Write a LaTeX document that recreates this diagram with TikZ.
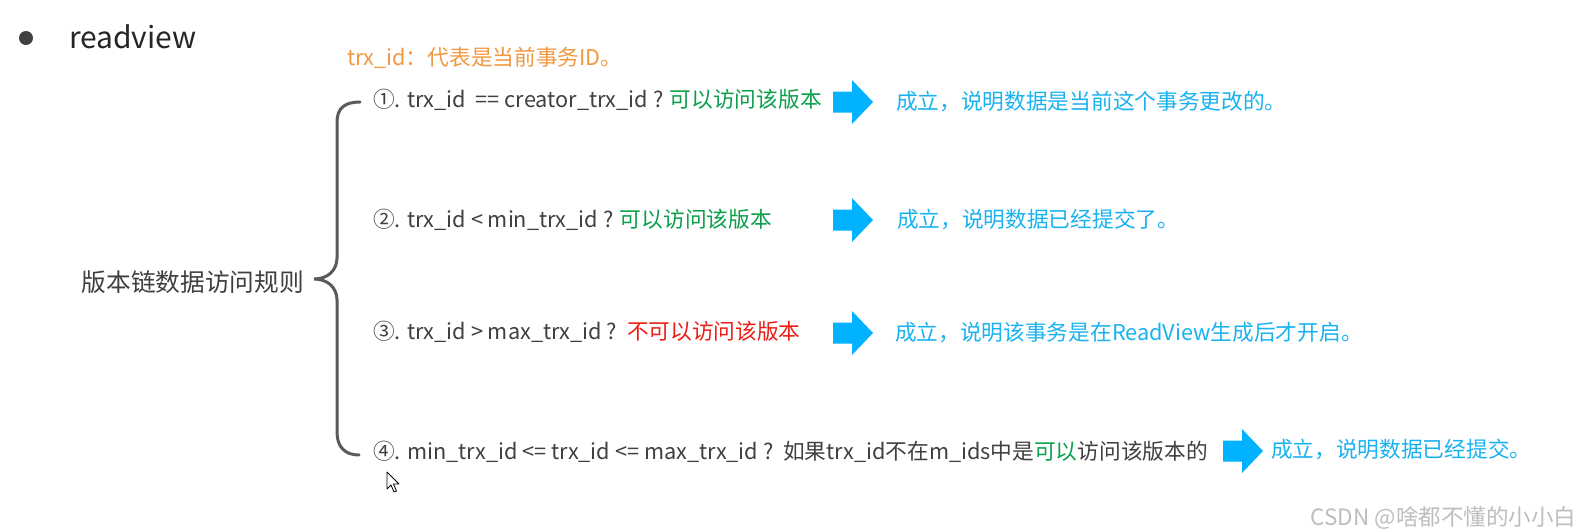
\documentclass[tikz,border=0pt]{standalone}
\usepackage{fontspec}
\setmainfont{Noto Sans CJK SC}
\definecolor{txtgray}{RGB}{64,64,64}
\definecolor{titleblack}{RGB}{38,38,38}
\definecolor{bulletgray}{RGB}{64,64,64}
\definecolor{orangetxt}{RGB}{242,152,64}
\definecolor{greentxt}{RGB}{10,160,75}
\definecolor{redtxt}{RGB}{235,30,20}
\definecolor{bluetxt}{RGB}{25,178,240}
\definecolor{arrowblue}{RGB}{0,178,255}
\definecolor{bracegray}{RGB}{90,90,90}
\definecolor{wmgray}{RGB}{190,190,190}
\tikzset{
  rowtxt/.style={anchor=west, text=txtgray, font=\fontsize{21.7}{26}\selectfont},
  restxt/.style={anchor=west, text=bluetxt, font=\fontsize{21.7}{26}\selectfont},
  bracestyle/.style={draw=bracegray, line width=3pt, line cap=round},
  blockarrow/.pic={\fill[arrowblue] (0,-10.5) -- (19,-10.5) -- (19,-22) -- (40,0) -- (19,22) -- (19,10.5) -- (0,10.5) -- cycle;}
}
\begin{document}
\begin{tikzpicture}[x=1pt,y=-1pt, every node/.style={inner sep=0pt, outer sep=0pt}]
\useasboundingbox[fill=white] (0,0) rectangle (1579,531);
% bullet and title
\fill[bulletgray] (26,38) circle (7pt);
\node[anchor=west, text=titleblack, font=\fontsize{30}{36}\selectfont] (title) at (69,37) {readview};
% orange note
\node[anchor=west, text=orangetxt, font=\fontsize{21.7}{26}\selectfont] (note) at (347,58) {trx\_id：代表是当前事务ID。};
% left label
\node[anchor=east, text=txtgray, font=\fontsize{24.7}{30}\selectfont] (label) at (304,282) {版本链数据访问规则};
% brace
\draw[bracestyle] (360,102) .. controls (345,102) and (337,108) .. (337,122)
  -- (337,258) .. controls (337,270) and (328,279) .. (314,279)
  .. controls (328,279) and (337,288) .. (337,300)
  -- (337,432) .. controls (337,447) and (345,455) .. (359,455);
% rows
\node[rowtxt] (r1) at (373,100) {①. trx\_id\ \ == creator\_trx\_id ? \textcolor{greentxt}{可以访问该版本}};
\node[rowtxt] (r2) at (373,220) {②. trx\_id < min\_trx\_id ? \textcolor{greentxt}{可以访问该版本}};
\node[rowtxt] (r3) at (373,332) {③. trx\_id > max\_trx\_id ?\ \ \textcolor{redtxt}{不可以访问该版本}};
\node[rowtxt] (r4) at (373,452) {④. min\_trx\_id <= trx\_id <= max\_trx\_id ?\ \ 如果trx\_id不在m\_ids中是\textcolor{greentxt}{可以}访问该版本的};
% arrows
\pic (a1) at (833,102) {blockarrow};
\pic (a2) at (833,220) {blockarrow};
\pic (a3) at (833,333) {blockarrow};
\pic (a4) at (1223,451) {blockarrow};
% results
\node[restxt] (s1) at (896,101) {成立，说明数据是当前这个事务更改的。};
\node[restxt] (s2) at (897,219) {成立，说明数据已经提交了。};
\node[restxt] (s3) at (895,332) {成立，说明该事务是在ReadView生成后才开启。};
\node[restxt] (s4) at (1271,449) {成立，说明数据已经提交。};
% cursor
\filldraw[fill=white, draw=black, line width=0.8pt, line join=round] (387,472) -- (387,489) -- (391,485) -- (394,492) -- (396.5,491) -- (393.5,484) -- (399,484) -- cycle;
% watermark
\node[anchor=east, text=wmgray, font=\fontsize{22.5}{26}\selectfont] (wm) at (1576,518) {CSDN @啥都不懂的小小白};
\end{tikzpicture}
\end{document}
